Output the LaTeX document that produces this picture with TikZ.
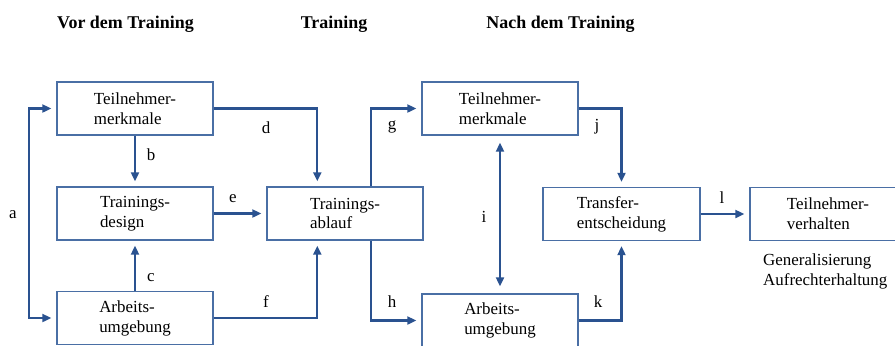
\documentclass[tikz,border=0pt]{standalone}
\usepackage{fontspec}
\setmainfont{Liberation Serif}
\usetikzlibrary{arrows.meta}
\definecolor{linkblue}{HTML}{2A5290}
\definecolor{boxblue}{HTML}{4A6FA5}
\begin{document}
\begin{tikzpicture}[x=1bp,y=-1bp,
  box/.style={draw=boxblue, line width=1.4bp, fill=white, minimum width=156bp,
    minimum height=53bp, align=left, inner sep=0pt, font=\fontsize{17}{20}\selectfont},
  link/.style={draw=linkblue, line width=2.1bp, -{Triangle[length=9bp,width=8bp]}, shorten >=5bp},
  both/.style={draw=linkblue, line width=2.1bp,
    {Triangle[length=9bp,width=8bp]}-{Triangle[length=9bp,width=8bp]}, shorten >=5bp, shorten <=5bp},
  lbl/.style={font=\fontsize{17}{20}\selectfont, inner sep=0pt},
  head/.style={font=\fontsize{18}{20}\selectfont\bfseries, anchor=base, inner sep=0pt}]

\useasboundingbox (0,0) rectangle (895,345);
\clip (0,0) rectangle (895,345);

% phase headings
\node[head] (h1) at (125.5,28) {Vor dem Training};
\node[head] (h2) at (334,28) {Training};
\node[head] (h3) at (560.5,28) {Nach dem Training};

% boxes
\node[box] (tm1) at (135,108.5) {Teilnehmer-\\merkmale};
\node[box] (td)  at (135,213.5) {Trainings-\\design};
\node[box] (au1) at (135,318)   {Arbeits-\\umgebung};
\node[box] (ta)  at (345,213.5) {Trainings-\\ablauf};
\node[box] (tm2) at (500,108.5) {Teilnehmer-\\merkmale};
\node[box] (au2) at (500,320.5) {Arbeits-\\umgebung};
\node[box, minimum width=157bp] (te) at (621.5,214) {Transfer-\\entscheidung};
\node[box] (tv)  at (828,214)   {Teilnehmer-\\verhalten};

\node[lbl, anchor=north west, align=left] (cap) at (763,254) {Generalisierung\\Aufrechterhaltung};

% connectors
\draw[both] (tm1.west) -- ++(-27,0) |- (au1.west);
\draw[link] (tm1.south) -- (td.north);
\draw[link] (au1.north) -- (td.south);
\draw[link] (tm1.east) -| ([xshift=51bp]ta.north west);
\draw[link] (td.east) -- (ta.west);
\draw[link] (au1.east) -| ([xshift=51bp]ta.south west);
\draw[link] ([xshift=105bp]ta.north west) |- (tm2.west);
\draw[link] ([xshift=105bp]ta.south west) |- (au2.west);
\draw[both, shorten >=7bp, shorten <=7bp] (tm2.south) -- (au2.north);
\draw[link] (tm2.east) -| (te.north);
\draw[link] (au2.east) -| (te.south);
\draw[link] (te.east) -- (tv.west);

% connector labels
\node[lbl] (la) at (13,215) {a};
\node[lbl] (lb) at (151,155) {b};
\node[lbl] (lc) at (151,278) {c};
\node[lbl] (ld) at (266,128) {d};
\node[lbl] (le) at (233,199) {e};
\node[lbl] (lf) at (266,302) {f};
\node[lbl] (lg) at (392,127) {g};
\node[lbl] (lh) at (392,302) {h};
\node[lbl] (li) at (484,217) {i};
\node[lbl] (lj) at (597,127) {j};
\node[lbl] (lk) at (598,302) {k};
\node[lbl] (ll) at (722,198) {l};
\end{tikzpicture}
\end{document}
